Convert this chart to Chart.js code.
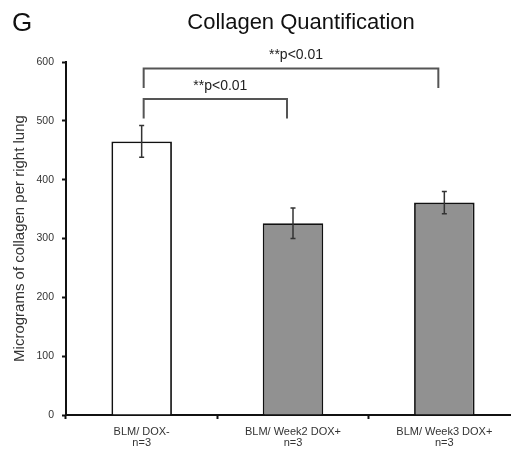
<!DOCTYPE html>
<html>
<head>
<meta charset="utf-8">
<script src="https://cdn.jsdelivr.net/npm/chart.js@4.4.1/dist/chart.umd.min.js"></script>
<style>
    html, body { margin: 0; padding: 0; background: #fff; overflow: hidden; }
    #wrap { width: 520px; height: 450px; }
</style>
</head>
<body>
<div id="wrap"><canvas id="collagenChart"></canvas></div>
<script>
// Chart data
const categories = [
    ['BLM/ DOX-', 'n=3'],
    ['BLM/ Week2 DOX+', 'n=3'],
    ['BLM/ Week3 DOX+', 'n=3']
];
const means = [465, 326, 361];
const errors = [27, 26, 19];
const barColors = ['#ffffff', '#919191', '#919191'];

// Significance brackets
const bracketFrom = [0, 0];
const bracketTo = [2, 1];
const bracketTop = [589, 537];
const bracketLegBottom = [556, 504];
const bracketLabels = ['**p<0.01', '**p<0.01'];

const FONT = '"Liberation Sans", Arial, sans-serif';

/**
 * Error bars, brackets and headings
 */
const extrasPlugin = {
    id: 'extras',
    afterDatasetsDraw(chart) {
        const ctx = chart.ctx;
        const yScale = chart.scales.y;
        const bars = chart.getDatasetMeta(0).data;

        // Error bars
        ctx.save();
        ctx.strokeStyle = '#333';
        ctx.lineWidth = 1.5;
        bars.forEach((bar, i) => {
            const top = yScale.getPixelForValue(means[i] + errors[i]);
            const bottom = yScale.getPixelForValue(means[i] - errors[i]);
            ctx.beginPath();
            ctx.moveTo(bar.x, top);
            ctx.lineTo(bar.x, bottom);
            ctx.moveTo(bar.x - 2.5, top);
            ctx.lineTo(bar.x + 2.5, top);
            ctx.moveTo(bar.x - 2.5, bottom);
            ctx.lineTo(bar.x + 2.5, bottom);
            ctx.stroke();
        });
        ctx.restore();

        // Brackets
        ctx.save();
        ctx.strokeStyle = '#555';
        ctx.lineWidth = 2;
        ctx.fillStyle = '#222';
        ctx.font = '14px ' + FONT;
        ctx.textAlign = 'center';
        ctx.textBaseline = 'middle';
        bracketFrom.forEach((from, i) => {
            const x1 = bars[from].x + 2;
            const x2 = bars[bracketTo[i]].x - 6;
            const yTop = yScale.getPixelForValue(bracketTop[i]);
            const yLeg = yScale.getPixelForValue(bracketLegBottom[i]);
            ctx.beginPath();
            ctx.moveTo(x1, yLeg);
            ctx.lineTo(x1, yTop);
            ctx.lineTo(x2, yTop);
            ctx.lineTo(x2, yLeg);
            ctx.stroke();
            ctx.fillText(bracketLabels[i], (x1 + x2) / 2 + 5, yTop - 13);
        });
        ctx.restore();

        // Headings
        ctx.save();
        ctx.fillStyle = '#111';
        ctx.textBaseline = 'middle';
        ctx.font = '26px ' + FONT;
        ctx.textAlign = 'left';
        ctx.fillText('G', 12, 24);
        ctx.font = '22px ' + FONT;
        ctx.textAlign = 'center';
        ctx.fillText('Collagen Quantification', 301, 23);
        ctx.restore();
    }
};

const ctx = document.getElementById('collagenChart').getContext('2d');
new Chart(ctx, {
    type: 'bar',
    data: {
        labels: categories,
        datasets: [{
            data: means,
            backgroundColor: barColors,
            borderColor: '#111',
            borderWidth: 1.8,
            borderSkipped: 'bottom',
            barPercentage: 0.4,
            categoryPercentage: 1.0
        }]
    },
    options: {
        responsive: true,
        maintainAspectRatio: false,
        animation: false,
        layout: { padding: { top: 62, left: 0, right: 0, bottom: 0 } },
        plugins: {
            legend: { display: false },
            tooltip: { enabled: false }
        },
        scales: {
            x: {
                offset: true,
                grid: {
                    display: true,
                    offset: true,
                    drawOnChartArea: false,
                    drawTicks: true,
                    tickLength: 4,
                    tickWidth: 2,
                    tickColor: '#111'
                },
                border: { display: true, color: '#111', width: 2 },
                ticks: {
                    color: '#333',
                    font: { family: FONT, size: 11, lineHeight: 1.0 },
                    padding: 7,
                    maxRotation: 0
                },
                afterFit(scale) { scale.height = 35; }
            },
            y: {
                min: 0,
                max: 600,
                ticks: {
                    stepSize: 100,
                    color: '#333',
                    font: { family: FONT, size: 10.5 },
                    padding: 8
                },
                grid: {
                    display: true,
                    drawOnChartArea: false,
                    drawTicks: true,
                    tickLength: 4,
                    tickWidth: 2,
                    tickColor: '#111'
                },
                border: { display: true, color: '#111', width: 2 },
                title: {
                    display: true,
                    text: 'Micrograms of collagen per right lung',
                    color: '#333',
                    font: { family: FONT, size: 15 },
                    padding: { top: 11, bottom: 0 }
                },
                afterFit(scale) { scale.width = 66; }
            }
        }
    },
    plugins: [extrasPlugin]
});
</script>
</body>
</html>
